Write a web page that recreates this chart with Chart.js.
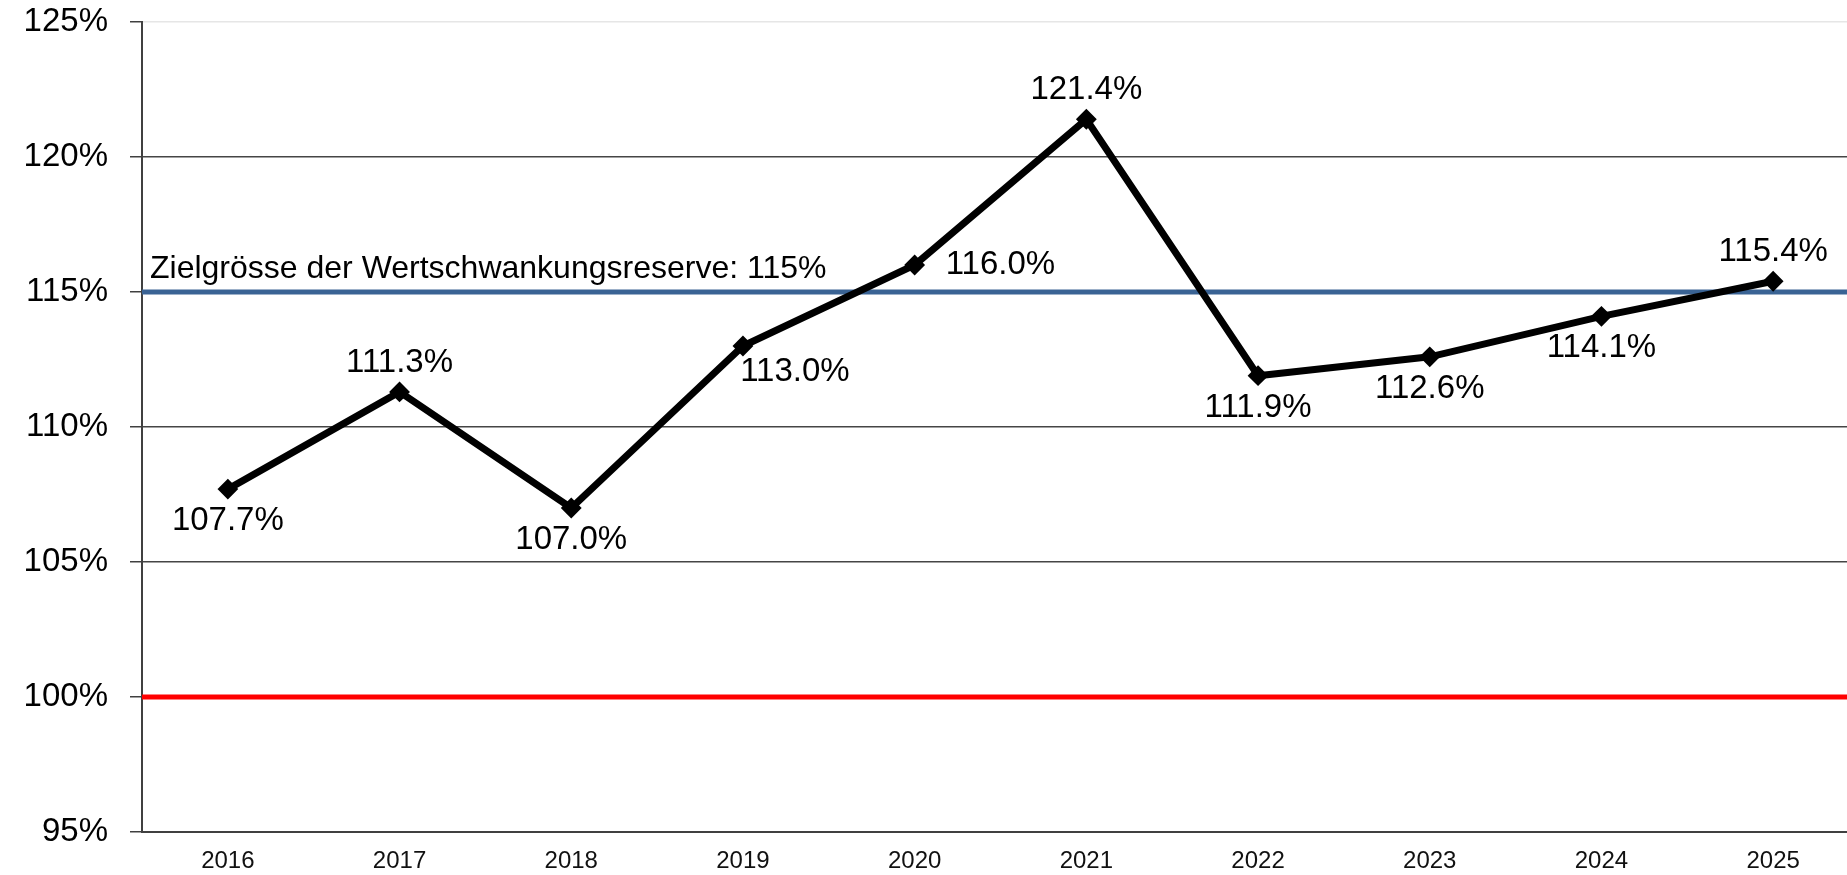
<!DOCTYPE html>
<html>
<head>
<meta charset="utf-8">
<script src="https://cdn.jsdelivr.net/npm/chart.js@4.4.1/dist/chart.umd.min.js"></script>
<style>
    html, body { margin: 0; padding: 0; background: #fff; overflow: hidden; }
    canvas { display: block; }
</style>
</head>
<body>
<canvas id="grafico" width="1870" height="875"></canvas>
<script>
// Daten
const jahre = ['2016', '2017', '2018', '2019', '2020', '2021', '2022', '2023', '2024', '2025'];
const deckungsgrad = [107.7, 111.3, 107.0, 113.0, 116.0, 121.4, 111.9, 112.6, 114.1, 115.4];
const zielWert = 115;
const zielText = 'Zielgrösse der Wertschwankungsreserve: 115%';
const untergrenze = 100;
const yTicks = [95, 100, 105, 110, 115, 120, 125];

// Position der Beschriftungen je Punkt
const labelLage = ['below', 'above', 'below', 'belowRight', 'right', 'above', 'below', 'below', 'below', 'above'];

const SCHRIFT = '"Liberation Sans", Arial, sans-serif';

// Horizontale Linien (100% rot, 115% blau) plus Text
const referenzLinien = {
    id: 'referenzLinien',
    beforeDatasetsDraw(chart) {
        const { ctx, chartArea, scales } = chart;
        const linie = (wert, farbe, breite) => {
            const y = scales.y.getPixelForValue(wert);
            ctx.save();
            ctx.strokeStyle = farbe;
            ctx.lineWidth = breite;
            ctx.beginPath();
            ctx.moveTo(chartArea.left, y);
            ctx.lineTo(chartArea.right, y);
            ctx.stroke();
            ctx.restore();
            return y;
        };
        linie(untergrenze, '#ff0000', 5);
        const yZiel = linie(zielWert, '#3a6394', 5);
        ctx.save();
        ctx.fillStyle = '#000';
        ctx.font = '32px ' + SCHRIFT;
        ctx.textAlign = 'left';
        ctx.textBaseline = 'alphabetic';
        ctx.fillText(zielText, chartArea.left + 8, yZiel - 14);
        ctx.restore();
    }
};

// Datenbeschriftungen
const wertLabels = {
    id: 'wertLabels',
    afterDatasetsDraw(chart) {
        const { ctx } = chart;
        const meta = chart.getDatasetMeta(0);
        ctx.save();
        ctx.fillStyle = '#000';
        ctx.font = '33px ' + SCHRIFT;
        ctx.textBaseline = 'middle';
        meta.data.forEach((pt, i) => {
            const text = deckungsgrad[i].toFixed(1) + '%';
            let x = pt.x, y = pt.y;
            ctx.textAlign = 'center';
            switch (labelLage[i]) {
                case 'above': y -= 29; break;
                case 'below': y += 32; break;
                case 'belowRight': x += 52; y += 26; break;
                case 'right': ctx.textAlign = 'left'; x += 31; break;
            }
            ctx.fillText(text, x, y);
        });
        ctx.restore();
    }
};

new Chart(document.getElementById('grafico'), {
    type: 'line',
    data: {
        labels: jahre,
        datasets: [{
            data: deckungsgrad,
            borderColor: '#000',
            backgroundColor: '#000',
            borderWidth: 7,
            pointStyle: 'rectRot',
            pointRadius: 9,
            pointBorderWidth: 2,
            tension: 0
        }]
    },
    options: {
        responsive: false,
        animation: false,
        layout: { padding: 0 },
        plugins: {
            legend: { display: false },
            tooltip: { enabled: false }
        },
        scales: {
            x: {
                offset: true,
                afterFit(scale) { scale.height = 43; },
                grid: { display: false, drawTicks: false },
                border: { display: true, color: '#404040', width: 2 },
                ticks: {
                    color: '#111',
                    font: { family: SCHRIFT, size: 24 },
                    padding: 15,
                    maxRotation: 0
                }
            },
            y: {
                min: 95,
                max: 125,
                afterFit(scale) { scale.width = 142; },
                afterBuildTicks(scale) { scale.ticks = yTicks.map(v => ({ value: v })); },
                grid: {
                    color: ctx => ctx.tick && ctx.tick.value === 125 ? '#e6e6e6' : '#454545',
                    lineWidth: 1.5,
                    tickLength: 12,
                    tickColor: '#404040'
                },
                border: { display: true, color: '#404040', width: 2 },
                ticks: {
                    color: '#000',
                    font: { family: SCHRIFT, size: 33, lineHeight: 0.001 },
                    padding: 22,
                    callback: v => v + '%'
                }
            }
        }
    },
    plugins: [referenzLinien, wertLabels]
});
</script>
</body>
</html>
